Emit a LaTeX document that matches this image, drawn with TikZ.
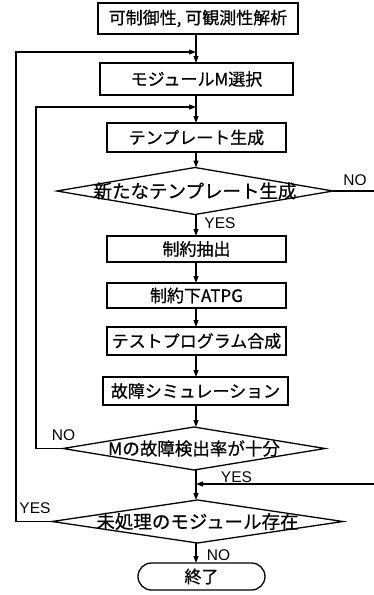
\documentclass[tikz,border=0pt]{standalone}
\usepackage{fontspec}
\setmainfont{Noto Sans CJK JP}[FakeBold=0.6]
\newfontfamily\latinsans{Liberation Sans}
\usetikzlibrary{shapes.geometric,shapes.misc,arrows.meta}
\begin{document}
\begin{tikzpicture}[x=1pt,y=-1pt,
  every node/.style={inner sep=0pt,outer sep=0pt},
  stepbox/.style={draw,line width=1.3pt,rectangle,font=\fontsize{17}{17}\selectfont},
  dia/.style={draw,line width=1.3pt,diamond},
  dtext/.style={font=\fontsize{18.5}{18.5}\selectfont},
  term/.style={draw,line width=1.3pt,rounded rectangle,font=\fontsize{17}{17}\selectfont},
  lab/.style={font=\latinsans\fontsize{15.5}{15.5}\selectfont},
  ln/.style={line width=1.2pt},
  arr/.style={line width=1.2pt,-{Triangle[length=7pt,width=5pt]}}]
\useasboundingbox (0,0) rectangle (374,595);
\coordinate (m) at (196,0);
\node[stepbox,minimum width=200,minimum height=31] (b1) at (198,18.5) {可制御性, 可観測性解析};
\node[stepbox,minimum width=193,minimum height=32] (b2) at (196.5,79) {モジュールM選択};
\node[stepbox,minimum width=179,minimum height=29] (b3) at (196.5,137.5) {テンプレート生成};
\node[dia,minimum width=276,minimum height=47] (d1) at (195,191) {};
\node[dtext] (t1) at (d1) {新たなテンプレート生成};
\node[stepbox,minimum width=179,minimum height=26] (b4) at (196.5,249) {制約抽出};
\node[stepbox,minimum width=179,minimum height=25] (b5) at (196.5,295.5) {制約下ATPG};
\node[stepbox,minimum width=179,minimum height=28] (b6) at (196.5,341) {テストプログラム合成};
\node[stepbox,minimum width=185,minimum height=28] (b7) at (195.5,391) {故障シミュレーション};
\node[dia,minimum width=262,minimum height=43] (d2) at (194,448.5) {};
\node[font=\fontsize{17.5}{17.5}\selectfont] (t2) at (d2) {Mの故障検出率が十分};
\node[dia,minimum width=291,minimum height=43] (d3) at (197.5,521.5) {};
\node[dtext] (t3) at (d3) {未処理のモジュール存在};
\node[term,minimum width=127,minimum height=27] (e) at (201.5,576.5) {終了};
% labels
\node[lab] (n1) at (355,180) {NO};
\node[lab] (y1) at (220,223) {YES};
\node[lab] (n2) at (63.5,435) {NO};
\node[lab] (y2) at (236.5,477) {YES};
\node[lab] (y3) at (35,508) {YES};
\node[lab] (n3) at (218.5,555) {NO};
% main chain
\draw[arr] (b1.south -| m) -- (b2.north -| m);
\draw[arr] (b2.south -| m) -- (b3.north -| m);
\draw[arr] (b3.south -| m) -- (d1.north -| m);
\draw[arr] (d1.south -| m) -- (b4.north -| m);
\draw[arr] (b4.south -| m) -- (b5.north -| m);
\draw[arr] (b5.south -| m) -- (b6.north -| m);
\draw[arr] (b6.south -| m) -- (b7.north -| m);
\draw[arr] (b7.south -| m) -- (d2.north -| m);
\draw[arr] (d2.south -| m) -- (d3.north -| m);
\draw[arr] (d3.south -| m) -- (e.north -| m);
% loops
\coordinate (ol) at (16,52);
\coordinate (il) at (36,107);
\coordinate (re1) at (374,191);
\coordinate (re2) at (374,484);
\draw[arr] (d3.west) -| (ol) -- (ol -| m);
\draw[arr] (d2.west) -| (il) -- (il -| m);
\draw[ln] (d1.east) -- (re1);
\draw[arr] (re2) -- (re2 -| m);
\end{tikzpicture}
\end{document}
